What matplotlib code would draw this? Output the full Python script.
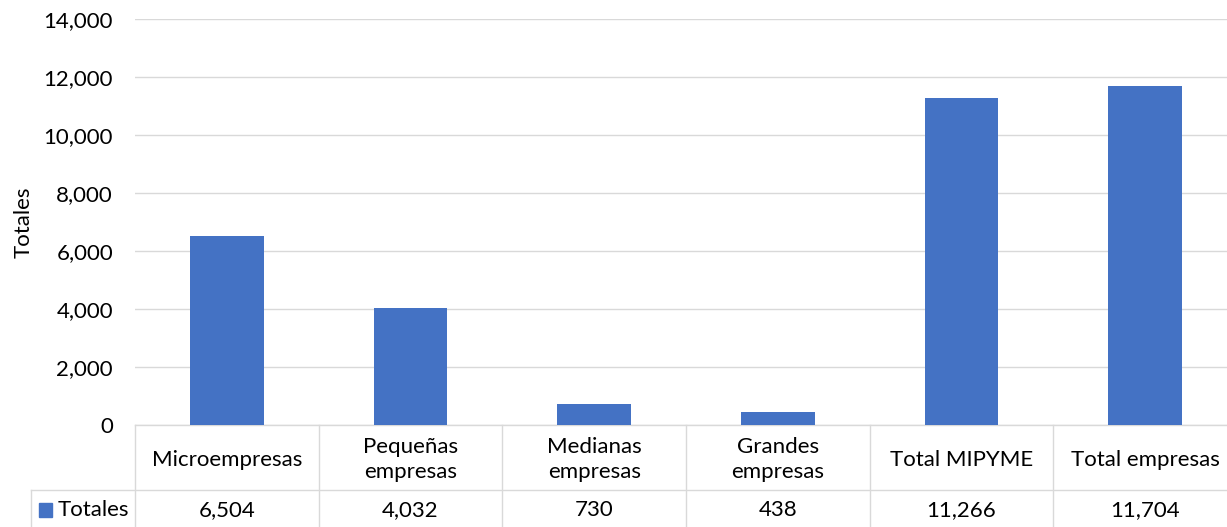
import matplotlib
matplotlib.use("Agg")
import matplotlib.pyplot as plt
from matplotlib.transforms import blended_transform_factory
from matplotlib.ticker import FuncFormatter, MultipleLocator
from matplotlib.lines import Line2D
from matplotlib.patches import Rectangle

categories = ["Microempresas", "Pequeñas\nempresas", "Medianas\nempresas",
              "Grandes\nempresas", "Total MIPYME", "Total empresas"]
values = [6504, 4032, 730, 438, 11266, 11704]
series_name = "Totales"
y_label = "Totales"

BAR = "#4472C4"
GRID = "#D9D9D9"
TXT = "#000000"
FONT = ["Lato", "DejaVu Sans"]
plt.rcParams["font.family"] = FONT
FS = 16

W, H = 1227, 527
fig = plt.figure(figsize=(W / 100, H / 100), dpi=100)

left_px, right_px, top_px, zero_px = 135, 1237, 19, 425
ax = fig.add_axes([left_px / W, (H - zero_px) / H,
                   (right_px - left_px) / W, (zero_px - top_px) / H])

x = list(range(len(categories)))
ax.bar(x, values, width=0.4, color=BAR, zorder=3)
ax.set_xlim(-0.5, len(categories) - 0.5)
ax.set_ylim(0, 14000)
ax.yaxis.set_major_locator(MultipleLocator(2000))
ax.yaxis.set_major_formatter(FuncFormatter(lambda v, p: f"{int(v):,}"))
ax.grid(axis="y", color=GRID, linewidth=1.0, zorder=0)
for s in ["top", "right", "left"]:
    ax.spines[s].set_visible(False)
ax.spines["bottom"].set_color(GRID)
ax.spines["bottom"].set_linewidth(1.0)
ax.tick_params(axis="y", length=0, pad=22 * 0.72, labelsize=FS, labelcolor=TXT)
ax.tick_params(axis="x", length=0, labelbottom=False)
ax.set_ylabel(y_label, fontsize=FS, color=TXT)
ax.yaxis.set_label_coords(-(135 - 34) / (right_px - left_px), 0.5)

# data table
tr = blended_transform_factory(ax.transData, fig.transFigure)
def fy(py):
    return (H - py) / H

row1_top, row_div, row2_bot = 425, 490, 528
header_left_px = 31
n = len(categories)
fig.add_artist(Line2D([header_left_px / W, right_px / W], [fy(row_div), fy(row_div)],
                      color=GRID, linewidth=1.0))
fig.add_artist(Line2D([header_left_px / W, right_px / W], [fy(row2_bot), fy(row2_bot)],
                      color=GRID, linewidth=1.0))
for i in range(n + 1):
    xb = i - 0.5
    ax.add_line(Line2D([xb, xb], [fy(row1_top), fy(row2_bot)], transform=tr,
                       color=GRID, linewidth=1.0, clip_on=False))
fig.add_artist(Line2D([header_left_px / W, header_left_px / W], [fy(row_div), fy(row2_bot)],
                      color=GRID, linewidth=1.0))

for i, (c, v) in enumerate(zip(categories, values)):
    ax.text(i, fy((row1_top + row_div) / 2 + 2), c, transform=tr, ha="center", va="center",
            fontsize=FS, color=TXT, linespacing=1.35, clip_on=False)
    ax.text(i, fy((row_div + row2_bot) / 2 + 1), f"{v:,}", transform=tr, ha="center",
            va="center", fontsize=FS, color=TXT, clip_on=False)

fig.add_artist(Rectangle((39 / W, fy(517)), 13 / W, 14 / H, color=BAR))
fig.text(58 / W, fy((row_div + row2_bot) / 2 + 1), series_name, ha="left", va="center",
         fontsize=FS, color=TXT)

fig.savefig("out.png", dpi=100)
